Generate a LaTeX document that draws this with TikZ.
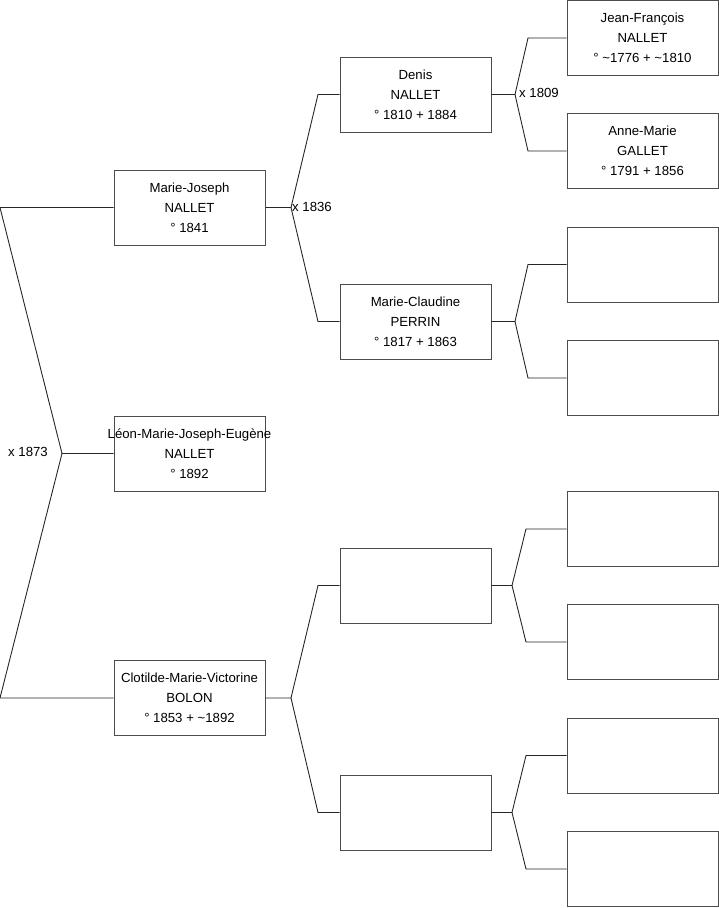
\documentclass[tikz,border=0pt]{standalone}
\usepackage{fontspec}
\setmainfont{Liberation Sans}
\begin{document}
\begin{tikzpicture}[x=1pt,y=-1pt,
    person/.style={draw=black!70, line width=0.9pt, minimum width=151pt,
      minimum height=75pt, inner sep=0pt, align=center,
      font=\fontsize{13.2}{20}\selectfont},
    link/.style={draw=black!85, line width=0.9pt},
    mariage/.style={inner sep=1pt, font=\fontsize{13.2}{16}\selectfont}]
  \useasboundingbox (0,0) rectangle (719,908);
  % generation 1 and 2
  \node[person] (L) at (189.5,453.5)
    {\makebox[0pt]{Léon-Marie-Joseph-Eugène}\\NALLET\\° 1892};
  \node[person] (MJ) at (189.5,207.5) {Marie-Joseph\\NALLET\\° 1841};
  \node[person] (CB) at (189.5,698)
    {Clotilde-Marie-Victorine\\BOLON\\° 1853 + \textasciitilde1892};
  % generation 3
  \node[person] (D) at (415.5,94.5) {Denis\\NALLET\\° 1810 + 1884};
  \node[person] (MC) at (415.5,321.5) {Marie-Claudine\\PERRIN\\° 1817 + 1863};
  \node[person] (E1) at (415.5,585.5) {};
  \node[person] (E2) at (415.5,812.5) {};
  % generation 4
  \node[person] (JF) at (642.5,38)
    {Jean-François\\NALLET\\° \textasciitilde1776 + \textasciitilde1810};
  \node[person] (AM) at (642.5,151) {Anne-Marie\\GALLET\\° 1791 + 1856};
  \node[person] (F3) at (642.5,264.5) {};
  \node[person] (F4) at (642.5,378) {};
  \node[person] (F5) at (642.5,529) {};
  \node[person] (F6) at (642.5,642) {};
  \node[person] (F7) at (642.5,755.5) {};
  \node[person] (F8) at (642.5,869) {};

  % forks
  \coordinate (j0) at (62,453.5); \coordinate (j0a) at (0,207.5);
  \coordinate (j0b) at (0,698);
  \draw[link] (L.west) -- (j0) -- (j0a) -- (MJ.west);
  \draw[link] (j0) -- (j0b) -- (CB.west);
  \node[mariage, anchor=east, xshift=-13pt, yshift=2pt] (m0) at (j0) {x 1873};

  \coordinate (j1) at (291,207.5); \coordinate (j1a) at (318,94.5);
  \coordinate (j1b) at (318,321.5);
  \draw[link] (MJ.east) -- (j1) -- (j1a) -- (D.west);
  \draw[link] (j1) -- (j1b) -- (MC.west);
  \node[mariage, anchor=west, yshift=0.5pt] (m1) at (j1) {x 1836};

  \coordinate (j2) at (291,698); \coordinate (j2a) at (318,585.5);
  \coordinate (j2b) at (318,812.5);
  \draw[link] (CB.east) -- (j2) -- (j2a) -- (E1.west);
  \draw[link] (j2) -- (j2b) -- (E2.west);

  \coordinate (j3) at (515,94.5); \coordinate (j3a) at (528,38);
  \coordinate (j3b) at (528,151);
  \draw[link] (D.east) -- (j3) -- (j3a) -- (JF.west);
  \draw[link] (j3) -- (j3b) -- (AM.west);
  \node[mariage, anchor=west, xshift=3pt, yshift=2pt] (m2) at (j3) {x 1809};

  \coordinate (j4) at (515,321.5); \coordinate (j4a) at (528,264.5);
  \coordinate (j4b) at (528,378);
  \draw[link] (MC.east) -- (j4) -- (j4a) -- (F3.west);
  \draw[link] (j4) -- (j4b) -- (F4.west);

  \coordinate (j5) at (512,585.5); \coordinate (j5a) at (526,529);
  \coordinate (j5b) at (526,642);
  \draw[link] (E1.east) -- (j5) -- (j5a) -- (F5.west);
  \draw[link] (j5) -- (j5b) -- (F6.west);

  \coordinate (j6) at (512,812.5); \coordinate (j6a) at (526,755.5);
  \coordinate (j6b) at (526,869);
  \draw[link] (E2.east) -- (j6) -- (j6a) -- (F7.west);
  \draw[link] (j6) -- (j6b) -- (F8.west);
\end{tikzpicture}
\end{document}
